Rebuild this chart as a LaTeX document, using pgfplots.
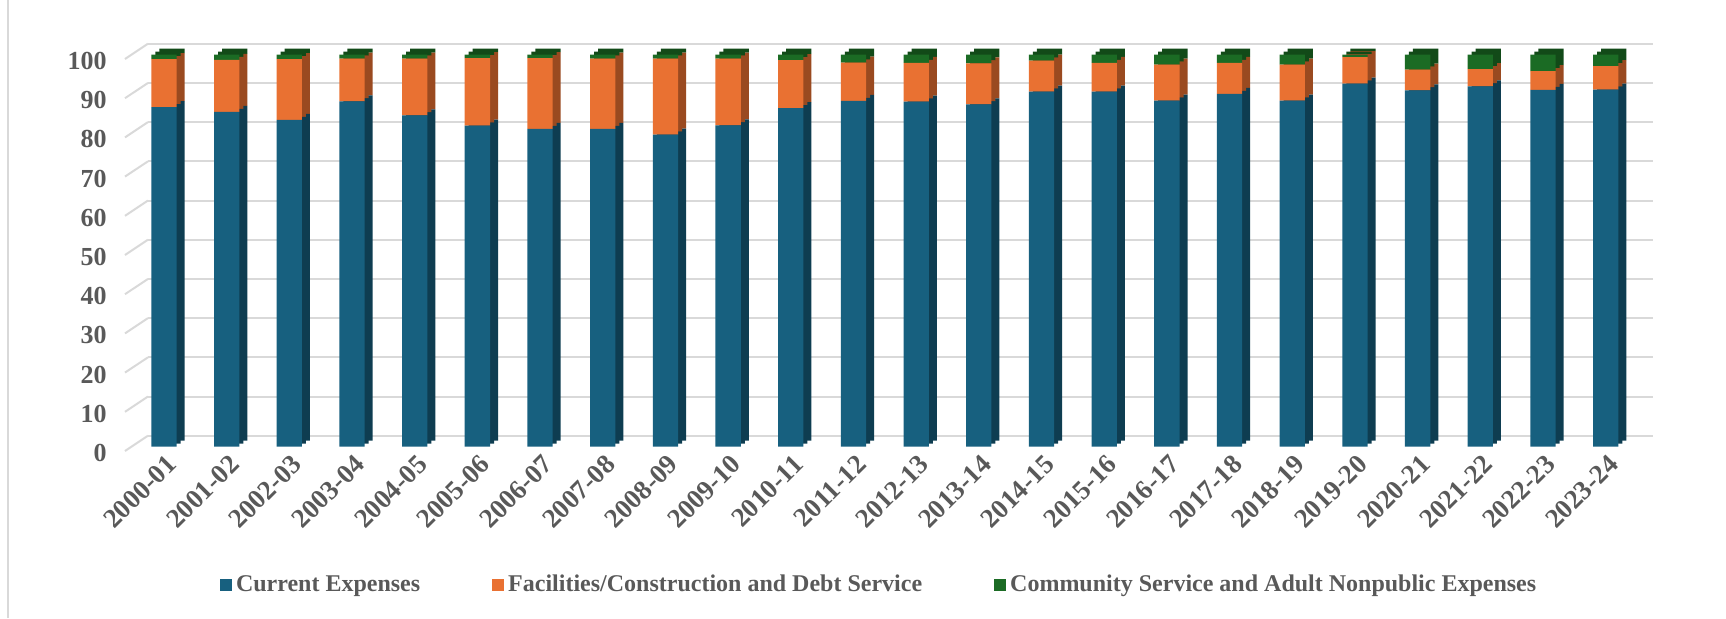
\documentclass[border=0pt]{standalone}
\usepackage{fontspec}
\setmainfont{Liberation Serif}
\usepackage{pgfplots}
\usepackage{pgfplotstable}
\pgfplotsset{compat=1.18}
\definecolor{blueF}{HTML}{17607F}
\definecolor{blueD}{HTML}{0E3D51}
\definecolor{orangeF}{HTML}{E97132}
\definecolor{orangeD}{HTML}{9A4A20}
\definecolor{greenF}{HTML}{1B6B24}
\definecolor{greenD}{HTML}{124A18}
\definecolor{textgrey}{HTML}{595959}
\definecolor{gridc}{HTML}{D9D9D9}

\pgfplotstableread{
x blue orange green
0 86.6 12.3 1.1
1 85.4 13.3 1.3
2 83.4 15.5 1.1
3 88.1 10.9 1.0
4 84.5 14.5 1.0
5 81.9 17.2 0.9
6 81.1 18.0 0.9
7 81.1 17.9 1.0
8 79.6 19.4 1.0
9 82.0 17.0 1.0
10 86.4 12.2 1.4
11 88.2 9.8 2.0
12 88.0 9.9 2.1
13 87.3 10.5 2.2
14 90.6 7.9 1.5
15 90.6 7.3 2.1
16 88.3 9.2 2.5
17 90.0 7.9 2.1
18 88.3 9.2 2.5
19 92.6 6.8 0.6
20 90.9 5.3 3.8
21 91.9 4.4 3.7
22 91.0 4.8 4.2
23 91.1 6.0 2.9
}\data

\pgfplotsset{
  base/.style={scale only axis, width=752.5pt, height=196pt,
    xmin=-0.51, xmax=23.5, ymin=0, ymax=100, clip=false, anchor=south west},
  barsdark/.style={base, hide axis, ybar stacked, bar width=12.65pt},
}
\newcommand{\lblfont}{\fontsize{12pt}{14pt}\selectfont\bfseries}
\newcommand{\yfont}{\fontsize{13pt}{15pt}\selectfont\bfseries}
\newcommand{\xfont}{\fontsize{13.5pt}{16pt}\selectfont\bfseries}

\begin{document}
\begin{tikzpicture}
\path[use as bounding box] (0,0) rectangle (863pt,309pt);
\draw[gridc, line width=0.8pt] (4pt,0) -- (4pt,309pt);

% back wall with gridlines
\begin{axis}[base, at={(74pt,91.15pt)},
  axis line style={draw=none}, tick style={draw=none},
  ytick={0,10,...,100}, yticklabels={}, xtick=\empty,
  ymajorgrids, grid style={gridc, line width=1pt}]
\pgfplotsinvokeforeach{0,10,20,30,40,50,60,70,80,90,100}{
  \draw[gridc, line width=1pt] ([shift={(-11.5pt,-7.65pt)}]axis cs:-0.51,#1) -- (axis cs:-0.51,#1);
}
\end{axis}

% dark extrusion (side and top faces)
\begin{axis}[barsdark, at={(70pt,88.65pt)}]
\addplot[fill=blueD, draw=none] table[x=x,y=blue]{\data};
\addplot[fill=orangeD, draw=none] table[x=x,y=orange]{\data};
\addplot[fill=greenD, draw=none] table[x=x,y=green]{\data};
\end{axis}
\begin{axis}[barsdark, at={(68pt,87.15pt)}]
\addplot[fill=blueD, draw=none] table[x=x,y=blue]{\data};
\addplot[fill=orangeD, draw=none] table[x=x,y=orange]{\data};
\addplot[fill=greenD, draw=none] table[x=x,y=green]{\data};
\end{axis}

% front faces + legend
\begin{axis}[barsdark, at={(66pt,85.65pt)},
  legend columns=3,
  legend image code/.code={\fill[#1] (0pt,-3pt) rectangle (6pt,3pt);},
  legend style={at={(0.4971,-0.3528)}, anchor=center, draw=none, fill=none,
    font=\lblfont, text=textgrey, inner sep=0pt,
    nodes={inner sep=2pt},
    /tikz/every even column/.append style={column sep=34pt}}]
\addplot[fill=blueF, draw=none] table[x=x,y=blue]{\data};
\addlegendentry{Current Expenses}
\addplot[fill=orangeF, draw=none] table[x=x,y=orange]{\data};
\addlegendentry{Facilities/Construction and Debt Service}
\addplot[fill=greenF, draw=none] table[x=x,y=green]{\data};
\addlegendentry{Community Service and Adult Nonpublic Expenses}
\end{axis}

% front plane: tick labels
\begin{axis}[base, at={(62.5pt,83.5pt)},
  axis line style={draw=none}, tick style={draw=none},
  /pgf/number format/assume math mode=true,
  ytick={0,10,...,100},
  xtick={0,...,23},
  xticklabels={2000-01,2001-02,2002-03,2003-04,2004-05,2005-06,2006-07,2007-08,2008-09,2009-10,2010-11,2011-12,2012-13,2013-14,2014-15,2015-16,2016-17,2017-18,2018-19,2019-20,2020-21,2021-22,2022-23,2023-24},
  yticklabel style={font=\yfont, text=textgrey, anchor=east, inner sep=0pt, xshift=-9pt, yshift=-1pt},
  xticklabel style={font=\xfont, text=textgrey, rotate=45, anchor=north east, inner sep=0pt, xshift=2.26pt, yshift=-3.68pt}]
\end{axis}
\end{tikzpicture}
\end{document}
